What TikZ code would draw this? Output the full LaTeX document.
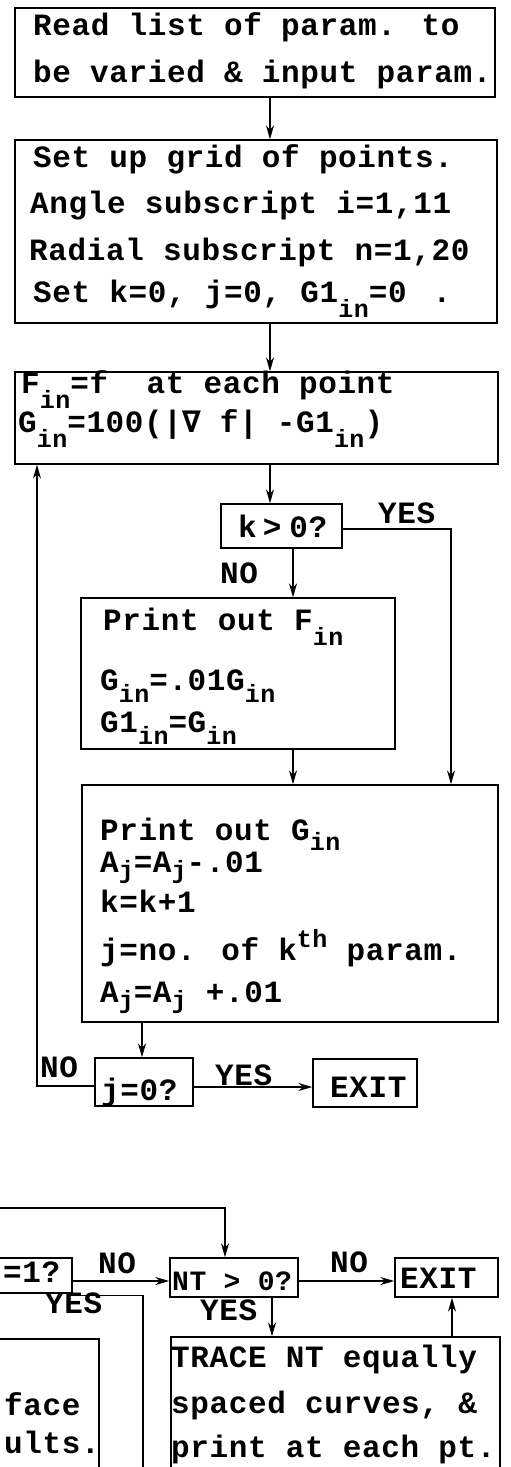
\documentclass[tikz,border=0pt]{standalone}
\usepackage{fontspec}
\setmainfont{Liberation Mono}[LetterSpace=2.0]
\newfontfamily\nablafont{DejaVu Sans Mono}
\usetikzlibrary{arrows.meta}
\newcommand\sbs[2][15pt]{\raisebox{-#1}{\fontsize{25}{25}\selectfont #2}}
\newcommand\sps[1]{\raisebox{13pt}{\fontsize{25}{25}\selectfont #1}}
\tikzset{
 box/.style={draw, line width=1.4pt, rectangle, inner sep=0pt},
 txt/.style={anchor=base west, inner sep=0pt, font=\bfseries\fontsize{31}{31}\selectfont},
 arr/.style={line width=1.3pt, -{Stealth[length=14pt,width=8pt]}},
 ln/.style={line width=1.3pt},
}
\begin{document}
\begin{tikzpicture}[x=1pt,y=-1pt]
\useasboundingbox (0,0) rectangle (511,1467);
\begin{scope}
\clip (0,0) rectangle (511,1467);
% boxes
\node[box, minimum width=480pt, minimum height=89pt] (b1) at (255,52.5) {};
\node[box, minimum width=482pt, minimum height=183pt] (b2) at (256,231.5) {};
\node[box, minimum width=483pt, minimum height=92pt] (b3) at (256.5,418) {};
\node[box, minimum width=121pt, minimum height=44pt] (bk) at (281.5,526) {};
\node[box, minimum width=314pt, minimum height=151pt] (bpf) at (238,673.5) {};
\node[box, minimum width=416pt, minimum height=237pt] (bpg) at (290,903.5) {};
\node[box, minimum width=98pt, minimum height=48pt] (bj) at (144,1082) {};
\node[box, minimum width=104pt, minimum height=48pt] (bx1) at (365,1083) {};
\node[box, minimum width=132pt, minimum height=35pt] (b1q) at (6,1275.5) {};
\node[box, minimum width=128pt, minimum height=39pt] (bnt) at (234,1277.5) {};
\node[box, minimum width=103pt, minimum height=39pt] (bx2) at (446.5,1277.5) {};
\node[box, minimum width=159pt, minimum height=181pt] (bl) at (19.5,1429.5) {};
\node[box, minimum width=329pt, minimum height=183pt] (btr) at (335.5,1428.5) {};
% texts
\node[txt] (t11) at (33,35) {Read list of param. to};
\node[txt] (t12) at (33,82) {be varied \& input param.};
\node[txt] (t21) at (33,167) {Set up grid of points.};
\node[txt] (t22) at (30,213) {Angle subscript i=1,11};
\node[txt] (t23) at (29,260) {Radial subscript n=1,20};
\node[txt] (t24) at (33,302) {Set k=0, j=0, G1\sbs{in}=0\hspace{26pt}.};
\node[txt] (t31) at (21,393) {F\sbs{in}=f\ \ at each point};
\node[txt] (t32) at (18,432) {G\sbs{in}=100(|{\nablafont ∇} f| -G1\sbs{in})};
\node[txt] (tk) at (238,537) {k\hspace{6pt}>\hspace{8pt}0?};
\node[txt] (tf1) at (103,630) {Print out F\sbs{in}};
\node[txt] (tf2) at (100,690) {G\sbs[12pt]{in}=.01G\sbs[12pt]{in}};
\node[txt] (tf3) at (100,732) {G1\sbs[12pt]{in}=G\sbs[12pt]{in}};
\node[txt] (tg1) at (100,840) {Print out G\sbs[10pt]{in}};
\node[txt] (tg2) at (100,872) {A\sbs[6pt]{j}=A\sbs[6pt]{j}-.01};
\node[txt] (tg3) at (100,912) {k=k+1};
\node[txt] (tg4) at (100,960) {j=no. of k\sps{th} param.};
\node[txt] (tg5) at (100,1002) {A\sbs[6pt]{j}=A\sbs[6pt]{j} +.01};
\node[txt] (tj) at (101,1100) {j=0?};
\node[txt] (tx1) at (330,1097) {EXIT};
\node[txt] (t1q) at (3,1282) {=1?};
\node[txt, font=\bfseries\fontsize{28}{28}\selectfont] (tnt) at (172,1290) {NT > 0?};
\node[txt] (tx2) at (400,1288) {EXIT};
\node[txt] (tl1) at (4,1415) {face};
\node[txt] (tl2) at (4,1453) {ults.};
\node[txt] (tr1) at (171,1367) {TRACE NT equally};
\node[txt] (tr2) at (171,1413) {spaced curves, \&};
\node[txt] (tr3) at (171,1457) {print at each pt.};
% labels
\node[txt] (lky) at (378,523) {YES};
\node[txt] (lkn) at (220,583) {NO};
\node[txt] (ljn) at (40,1077) {NO};
\node[txt] (ljy) at (215,1085) {YES};
\node[txt] (l1n) at (98,1273) {NO};
\node[txt] (l1y) at (45,1313) {YES};
\node[txt] (lnn) at (330,1272) {NO};
\node[txt] (lny) at (200,1320) {YES};
% connectors
\draw[arr] ([xshift=15pt]b1.south) -- ([xshift=15pt]b1.south |- b2.north);
\draw[arr] ([xshift=14pt]b2.south) -- ([xshift=14pt]b2.south |- b3.north);
\draw[arr] ([xshift=13.5pt]b3.south) -- ([xshift=13.5pt]b3.south |- bk.north);
\draw[arr] ([xshift=11.5pt]bk.south) -- ([xshift=11.5pt]bk.south |- bpf.north);
\draw[arr] ([yshift=-3pt]bk.east) -| ([xshift=161pt]bpg.north);
\draw[arr] ([xshift=55pt]bpf.south) -- ([xshift=55pt]bpf.south |- bpg.north);
\draw[arr] ([xshift=-148pt]bpg.south) -- ([xshift=-148pt]bpg.south |- bj.north);
\draw[arr] ([yshift=-5pt]bj.east) -- ([yshift=-5pt]bj.east -| bx1.west);
\draw[arr] ([yshift=-4pt]bj.west) -| ([xshift=-219.5pt]b3.south);
\coordinate (topin) at (-10,1208);
\draw[arr] (topin) -| ([xshift=-9pt]bnt.north);
\draw[arr] ([yshift=-5.5pt]b1q.east) -- ([yshift=-5.5pt]b1q.east -| bnt.west);
\draw[arr] ([yshift=-3.5pt]bnt.east) -- ([yshift=-3.5pt]bnt.east -| bx2.west);
\draw[arr] ([xshift=38pt]bnt.south) -- ([xshift=38pt]bnt.south |- btr.north);
\draw[arr] ([xshift=116.5pt]btr.north) -- ([xshift=116.5pt]btr.north |- bx2.south);
\coordinate (yesend) at (143,1490);
\draw[ln] ([yshift=-2pt]b1q.south east) -| (yesend);
\end{scope}
\end{tikzpicture}
\end{document}
